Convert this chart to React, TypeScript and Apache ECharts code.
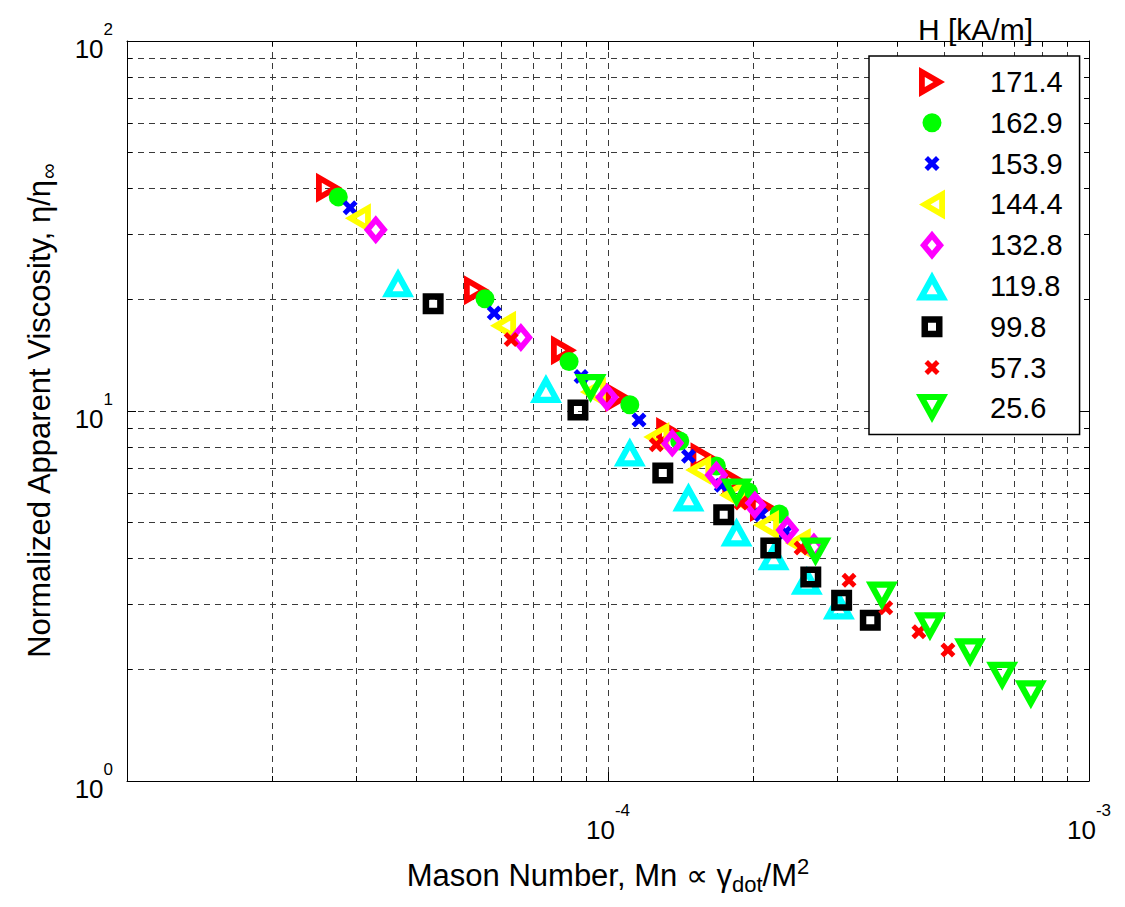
import React, { useEffect, useRef } from "react";
import * as echarts from "echarts";

// ---- data (Mason number, normalized apparent viscosity) ----
const fieldLabels = ["171.4", "162.9", "153.9", "144.4", "132.8", "119.8", "99.8", "57.3", "25.6"];

const s171_4: [number, number][] = [[2.63e-5, 40.1], [5.34e-5, 21.2], [8.1e-5, 14.6], [1.05e-4, 10.9], [1.34e-4, 8.78], [1.58e-4, 7.5], [1.84e-4, 6.43], [2.1e-4, 5.5]];
const s162_9: [number, number][] = [[2.75e-5, 37.9], [5.55e-5, 20.1], [8.3e-5, 13.6], [1.11e-4, 10.4], [1.41e-4, 8.3], [1.68e-4, 7.1], [1.96e-4, 6.04], [2.27e-4, 5.27]];
const s153_9: [number, number][] = [[2.91e-5, 35.4], [5.8e-5, 18.4], [8.79e-5, 12.4], [1.16e-4, 9.45], [1.47e-4, 7.55], [1.72e-4, 6.3], [2.08e-4, 5.24], [2.34e-4, 4.71]];
const s144_4: [number, number][] = [[3.02e-5, 33.2], [6.05e-5, 17.0], [9.3e-5, 11.25], [1.26e-4, 8.5], [1.54e-4, 6.93], [1.81e-4, 5.93], [2.13e-4, 4.92], [2.48e-4, 4.4]];
const s132_8: [number, number][] = [[3.29e-5, 30.9], [6.59e-5, 15.8], [9.95e-5, 10.9], [1.36e-4, 8.2], [1.68e-4, 6.71], [2.02e-4, 5.57], [2.36e-4, 4.77], [2.68e-4, 4.29]];
const s119_8: [number, number][] = [[3.66e-5, 22.2], [7.43e-5, 11.5], [1.11e-4, 7.75], [1.47e-4, 5.86], [1.85e-4, 4.71], [2.21e-4, 4.06], [2.59e-4, 3.49], [3.02e-4, 2.99]];
const s99_8: [number, number][] = [[4.33e-5, 19.5], [8.66e-5, 10.06], [1.3e-4, 6.8], [1.74e-4, 5.24], [2.18e-4, 4.26], [2.64e-4, 3.56], [3.06e-4, 3.08], [3.51e-4, 2.72]];
const s57_3: [number, number][] = [[6.29e-5, 15.6], [1.26e-4, 8.1], [1.89e-4, 5.64], [2.52e-4, 4.26], [3.17e-4, 3.49], [3.78e-4, 2.94], [4.43e-4, 2.53], [5.09e-4, 2.26]];
const s25_6: [number, number][] = [[9.2e-5, 11.5], [1.85e-4, 6.0], [2.7e-4, 4.16], [3.71e-4, 3.16], [4.67e-4, 2.61], [5.66e-4, 2.22], [6.6e-4, 1.92], [7.57e-4, 1.71]];

const seriesData = [s171_4, s162_9, s153_9, s144_4, s132_8, s119_8, s99_8, s57_3, s25_6];
const seriesColors = ["#ff0000", "#00ff00", "#0000ff", "#ffff00", "#ff00ff", "#00ffff", "#000000", "#ff0000", "#00ff00"];

// Marker shapes inside a 34x34 frame (outer outline + reversed inner outline = thick hollow marker)
const F = "M0,0 M34,34 ";
const X_PATH = "M9.5,13 L13,9.5 L17,13.5 L21,9.5 L24.5,13 L20.5,17 L24.5,21 L21,24.5 L17,20.5 L13,24.5 L9.5,21 L13.5,17 Z";
const symbols = [
  "path://" + F + "M4,2 L30,17 L4,32 Z M9.8,12 L9.8,22 L18.4,17 Z",
  "path://" + F + "M26.5,17 A9.5,9.5 0 1,1 7.5,17 A9.5,9.5 0 1,1 26.5,17 Z",
  "path://" + F + X_PATH,
  "path://" + F + "M30,2 L4,17 L30,32 Z M24.2,12 L24.2,22 L15.6,17 Z",
  "path://" + F + "M17,2.5 L29,17 L17,31.5 L5,17 Z M17,11.5 L12.5,17 L17,22.5 L21.5,17 Z",
  "path://" + F + "M17,2.5 L33,31.5 L1,31.5 Z M17,15.3 L11.5,25.3 L22.5,25.3 Z",
  "path://" + F + "M6.5,6.5 L27.5,6.5 L27.5,27.5 L6.5,27.5 Z M13,13 L13,21 L21,21 L21,13 Z",
  "path://" + F + X_PATH,
  "path://" + F + "M1,2.5 L33,2.5 L17,31.5 Z M11.5,8.7 L17,18.7 L22.5,8.7 Z",
];

const FONT = "Liberation Sans, Arial, Helvetica, sans-serif";

const gridLine = { show: true, lineStyle: { color: "#3a3a3a", width: 1, type: [6, 5] as any } };

const powRich = {
  b: { fontSize: 26, fontFamily: FONT, color: "#000", padding: [16, 0, 0, 0], verticalAlign: "middle" },
  e: { fontSize: 17, fontFamily: FONT, color: "#000", padding: [0, 0, 24, 0], verticalAlign: "middle" },
};
const powFmt = (v: number) => `{b|10}{e|${Math.round(Math.log10(v))}}`;

export default function App() {
  const ref = useRef<HTMLDivElement>(null);
  useEffect(() => {
    if (!ref.current) return;
    const chart = echarts.init(ref.current, null, { renderer: "svg" });
    const axisCommon = (extra: any) => ({
      type: "log",
      logBase: 10,
      axisLine: { show: true, onZero: false, lineStyle: { color: "#000", width: 1 } },
      axisTick: { show: true, inside: true, length: 9, lineStyle: { color: "#000" } },
      minorTick: { show: true, splitNumber: 9, length: 5, lineStyle: { color: "#000" } },
      ...extra,
    });
    chart.setOption({
      animation: false,
      backgroundColor: "#fff",
      title: {
        text: "H [kA/m]",
        left: 913,
        top: 9,
        textStyle: { fontSize: 30, fontWeight: "normal", fontFamily: FONT, color: "#000" },
      },
      legend: {
        orient: "vertical",
        left: 869,
        top: 56,
        padding: [9, 17, 9, 46],
        itemWidth: 106,
        itemHeight: 34,
        itemGap: 6.8,
        backgroundColor: "#fff",
        borderColor: "#000",
        borderWidth: 1.5,
        borderRadius: 0,
        textStyle: { fontSize: 29, fontFamily: FONT, color: "#000" },
        data: fieldLabels,
      },
      grid: { left: 127, right: 36, top: 41, bottom: 126, containLabel: false },
      xAxis: [
        axisCommon({
          position: "bottom",
          min: 1e-5,
          max: 1e-3,
          splitLine: gridLine,
          minorSplitLine: gridLine,
          axisLabel: {
            margin: 20,
            formatter: (v: number) => (v < 2e-5 ? "" : powFmt(v)),
            rich: powRich,
          },
          name: "Mason Number, Mn \u221D \u03B3{sub|dot}/M{sup|2}",
          nameLocation: "middle",
          nameGap: 74,
          nameTextStyle: {
            fontSize: 31,
            fontFamily: FONT,
            color: "#000",
            rich: {
              sub: { fontSize: 22, fontFamily: FONT, color: "#000", padding: [18, 0, 0, 0], verticalAlign: "middle" },
              sup: { fontSize: 22, fontFamily: FONT, color: "#000", padding: [0, 0, 18, 0], verticalAlign: "middle" },
            },
          },
        }),
        axisCommon({
          position: "top",
          min: 1e-5,
          max: 1e-3,
          axisLabel: { show: false },
          splitLine: { show: false },
        }),
      ],
      yAxis: [
        axisCommon({
          position: "left",
          min: 1,
          max: 100,
          splitLine: gridLine,
          minorSplitLine: gridLine,
          axisLabel: { margin: 14, formatter: powFmt, rich: powRich },
          name: "Normalized Apparent Viscosity, \u03B7/\u03B7{sub|\u221E}",
          nameLocation: "middle",
          nameGap: 68,
          nameTextStyle: {
            fontSize: 31,
            fontFamily: FONT,
            color: "#000",
            rich: {
              sub: { fontSize: 22, fontFamily: FONT, color: "#000", padding: [18, 0, 0, 0], verticalAlign: "middle" },
            },
          },
        }),
        axisCommon({
          position: "right",
          min: 1,
          max: 100,
          axisLabel: { show: false },
          splitLine: { show: false },
        }),
      ],
      series: seriesData.map((d, i) => ({
        name: fieldLabels[i],
        type: "scatter",
        data: d,
        symbol: symbols[i],
        symbolSize: 34,
        itemStyle: { color: seriesColors[i], borderWidth: 0, opacity: 1 },
      })),
    });
    return () => chart.dispose();
  }, []);
  return <div ref={ref} style={{ width: 1125, height: 907, position: "absolute", left: 0, top: 0 }} />;
}
